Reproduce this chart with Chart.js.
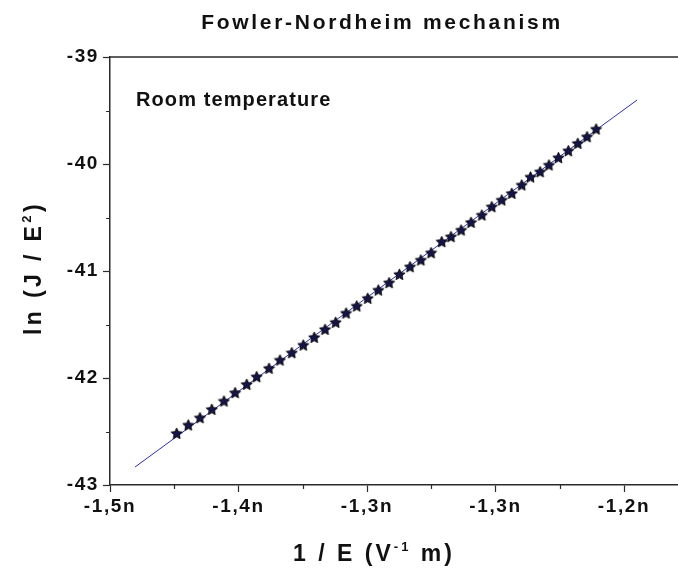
<!DOCTYPE html>
<html>
<head>
<meta charset="utf-8">
<title>Fowler-Nordheim mechanism</title>
<script src="https://cdn.jsdelivr.net/npm/chart.js@4"></script>
<style>
  html, body { margin: 0; padding: 0; background: #fff; overflow: hidden; }
  #fn-chart { display: block; }
</style>
</head>
<body>
<canvas id="fn-chart" width="678" height="581"></canvas>
<script>
// 1/E in units of 1e-9 V^-1 m
const invField = [
  -1.4611, -1.4543, -1.4475, -1.4406, -1.4335, -1.4270, -1.4202, -1.4144,
  -1.4072, -1.4008, -1.3939, -1.3872, -1.3808, -1.3745, -1.3683, -1.3622,
  -1.3560, -1.3496, -1.3434, -1.3371, -1.3311, -1.3249, -1.3186, -1.3126,
  -1.3064, -1.3010, -1.2951, -1.2893, -1.2830, -1.2772, -1.2714, -1.2655,
  -1.2597, -1.2546, -1.2490, -1.2438, -1.2383, -1.2325, -1.2270, -1.2216,
  -1.2163
];
// ln(J / E^2)
const lnJE2 = [
  -42.517, -42.439, -42.371, -42.293, -42.215, -42.137, -42.059, -41.988,
  -41.909, -41.832, -41.764, -41.692, -41.620, -41.545, -41.479, -41.393,
  -41.327, -41.255, -41.178, -41.109, -41.031, -40.960, -40.897, -40.829,
  -40.726, -40.679, -40.617, -40.545, -40.477, -40.399, -40.336, -40.274,
  -40.196, -40.121, -40.072, -40.009, -39.941, -39.876, -39.807, -39.745,
  -39.673
];
// ends of the fitted straight line
const fitX = [-1.4854, -1.1924];
const fitY = [-42.832, -39.402];

// axes
const xTickValues = [-1.5, -1.425, -1.35, -1.275, -1.2];
const xTickLabels = ["-1,5n", "-1,4n", "-1,3n", "-1,3n", "-1,2n"];
const xMinorTicks = [-1.4625, -1.3875, -1.3125, -1.2375];
const yTickValues = [-43, -42, -41, -40, -39];
const yTickLabels = ["-43", "-42", "-41", "-40", "-39"];
const yMinorTicks = [-42.5, -41.5, -40.5, -39.5];

const AXIS_COLOR = "#2a2a2a";
const TEXT_COLOR = "#111";
const FONT = "'Liberation Sans', Arial, sans-serif";

// filled five-pointed star used as marker
function makeStar(size) {
  const c = document.createElement("canvas");
  c.width = size;
  c.height = size;
  const g = c.getContext("2d");
  const cx = size / 2, cy = size / 2 + 0.5;
  const R = size / 2 - 0.6, r = R * 0.47;
  g.beginPath();
  for (let i = 0; i < 10; i++) {
    const a = -Math.PI / 2 + (i * Math.PI) / 5;
    const rr = i % 2 ? r : R;
    g.lineTo(cx + rr * Math.cos(a), cy + rr * Math.sin(a));
  }
  g.closePath();
  g.fillStyle = "#151548";
  g.fill();
  g.strokeStyle = "#000";
  g.lineWidth = 0.9;
  g.stroke();
  return c;
}

// text with superscripts, centered on x
function drawRich(ctx, parts, x, y, baseFont, supFont, spacing) {
  ctx.letterSpacing = spacing + "px";
  ctx.textAlign = "left";
  ctx.textBaseline = "alphabetic";
  let w = 0;
  parts.forEach((p) => {
    ctx.font = p.sup ? supFont : baseFont;
    w += ctx.measureText(p.t).width;
  });
  let cx = x - w / 2;
  parts.forEach((p) => {
    ctx.font = p.sup ? supFont : baseFont;
    ctx.fillText(p.t, cx, p.sup ? y - 10 : y);
    cx += ctx.measureText(p.t).width;
  });
}

const decorPlugin = {
  id: "decor",
  beforeUpdate(chart) {
    chart.ctx.letterSpacing = "1.6px";
  },
  beforeDraw(chart) {
    const ctx = chart.ctx;
    ctx.save();
    ctx.fillStyle = "#fff";
    ctx.fillRect(0, 0, chart.width, chart.height);
    ctx.restore();
    ctx.letterSpacing = "1.6px";
  },
  afterDraw(chart) {
    const ctx = chart.ctx;
    const area = chart.chartArea;
    const xs = chart.scales.x, ys = chart.scales.y;

    ctx.save();
    // top frame line
    ctx.strokeStyle = AXIS_COLOR;
    ctx.lineWidth = 1.5;
    ctx.beginPath();
    ctx.moveTo(area.left, area.top);
    ctx.lineTo(area.right, area.top);
    ctx.stroke();

    // minor ticks
    ctx.lineWidth = 1.2;
    ctx.beginPath();
    xMinorTicks.forEach((v) => {
      const px = Math.round(xs.getPixelForValue(v)) + 0.5;
      ctx.moveTo(px, area.bottom);
      ctx.lineTo(px, area.bottom + 4);
    });
    yMinorTicks.forEach((v) => {
      const py = Math.round(ys.getPixelForValue(v)) + 0.5;
      ctx.moveTo(area.left - 4, py);
      ctx.lineTo(area.left, py);
    });
    ctx.stroke();

    ctx.fillStyle = TEXT_COLOR;
    // title
    drawRich(ctx, [{ t: "Fowler-Nordheim mechanism" }],
      382, 29, "bold 21px " + FONT, "bold 12px " + FONT, 2.7);
    // annotation
    ctx.letterSpacing = "1.1px";
    ctx.font = "bold 20px " + FONT;
    ctx.textAlign = "left";
    ctx.fillText("Room temperature", 136, 106);
    // x axis title
    drawRich(ctx, [{ t: "1 / E (V" }, { t: "-1", sup: true }, { t: " m)" }],
      374, 561, "bold 23px " + FONT, "bold 13px " + FONT, 3);
    // y axis title
    ctx.translate(41, 268);
    ctx.rotate(-Math.PI / 2);
    drawRich(ctx, [{ t: "ln (J / E" }, { t: "2", sup: true }, { t: ")" }],
      0, 0, "bold 23px " + FONT, "bold 13px " + FONT, 3.4);
    ctx.restore();
  }
};

const points = invField.map((x, i) => ({ x: x, y: lnJE2[i] }));
const fitLine = fitX.map((x, i) => ({ x: x, y: fitY[i] }));

new Chart(document.getElementById("fn-chart"), {
  type: "scatter",
  data: {
    datasets: [
      {
        label: "Room temperature",
        data: points,
        pointStyle: makeStar(13),
        pointRadius: 6,
        showLine: false,
        order: 1
      },
      {
        label: "Fit",
        data: fitLine,
        showLine: true,
        borderColor: "#3030a8",
        borderWidth: 1,
        pointRadius: 0,
        order: 2
      }
    ]
  },
  options: {
    responsive: false,
    animation: false,
    devicePixelRatio: 1,
    layout: {
      autoPadding: false,
      padding: { top: 57, right: 0, left: 0, bottom: 0 }
    },
    plugins: {
      legend: { display: false },
      title: { display: false },
      tooltip: { enabled: false }
    },
    scales: {
      x: {
        type: "linear",
        min: -1.5,
        max: -1.1685,
        afterBuildTicks: (scale) => {
          scale.ticks = xTickValues.map((v) => ({ value: v }));
        },
        afterFit: (scale) => {
          scale.height = 96;
          scale.paddingRight = 0;
        },
        ticks: {
          color: TEXT_COLOR,
          font: { family: FONT, size: 19, weight: "bold" },
          padding: 3,
          maxRotation: 0,
          autoSkip: false,
          callback: (v, i) => xTickLabels[i]
        },
        grid: {
          drawOnChartArea: false,
          drawTicks: true,
          tickLength: 7,
          tickWidth: 1.2,
          color: AXIS_COLOR
        },
        border: { display: true, color: AXIS_COLOR, width: 1.5 }
      },
      y: {
        type: "linear",
        min: -43,
        max: -39,
        afterBuildTicks: (scale) => {
          scale.ticks = yTickValues.map((v) => ({ value: v }));
        },
        afterFit: (scale) => { scale.width = 110; },
        ticks: {
          color: TEXT_COLOR,
          font: { family: FONT, size: 19, weight: "bold" },
          padding: 4,
          autoSkip: false,
          callback: (v, i) => yTickLabels[i]
        },
        grid: {
          drawOnChartArea: false,
          drawTicks: true,
          tickLength: 7,
          tickWidth: 1.2,
          color: AXIS_COLOR
        },
        border: { display: true, color: AXIS_COLOR, width: 1.5 }
      }
    }
  },
  plugins: [decorPlugin]
});
</script>
</body>
</html>
